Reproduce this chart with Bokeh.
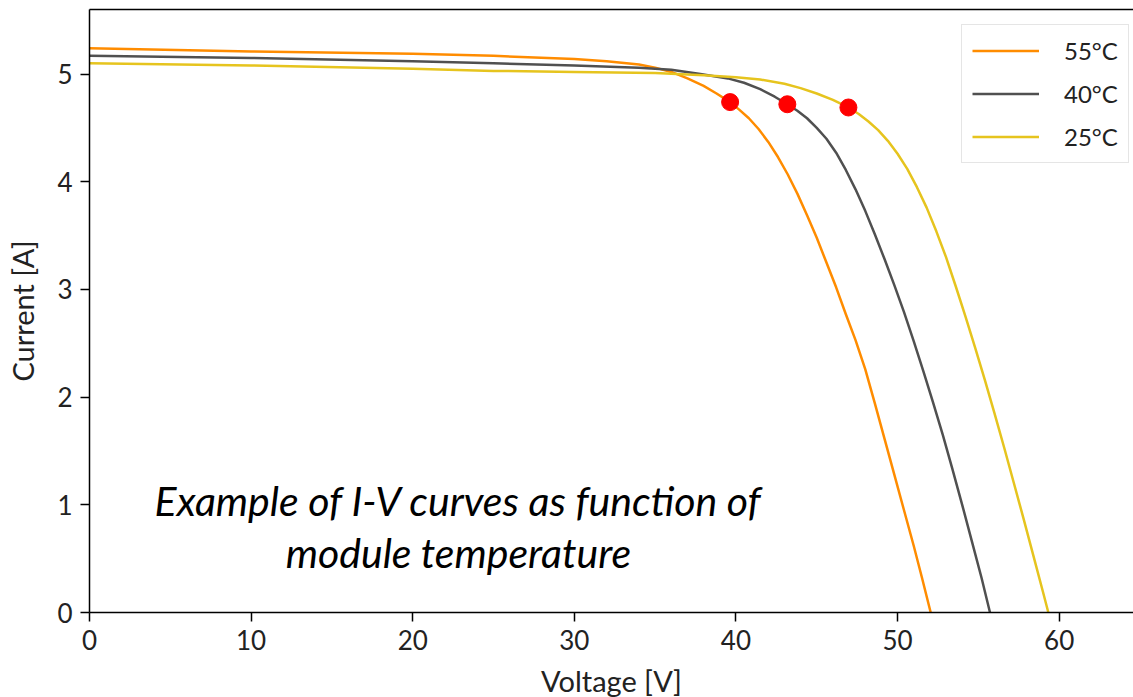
from bokeh.plotting import figure
from bokeh.models import Range1d, LinearAxis, Legend, LegendItem, Label, FixedTicker
from bokeh.embed import file_html
from bokeh.resources import INLINE

FONT = "Lato"

# 55 °C curve
v55 = [0, 10, 20, 25, 30, 32, 34, 35, 36, 37, 38, 38.8, 39.64, 40.2, 40.8, 41.4, 42.0,
       42.6, 43.2, 43.8, 44.4, 45.0, 45.6, 46.2, 46.8, 47.4, 48.0, 48.6, 49.2, 49.8,
       50.4, 51.0, 51.5, 52.05]
i55 = [5.24, 5.21, 5.19, 5.17, 5.14, 5.12, 5.09, 5.06, 5.02, 4.96, 4.89, 4.82, 4.74, 4.67, 4.59,
       4.49, 4.37, 4.23, 4.07, 3.89, 3.69, 3.48, 3.25, 3.02, 2.77, 2.53, 2.26, 1.94, 1.61,
       1.28, 0.95, 0.62, 0.33, 0.0]
# 40 °C curve
v40 = [0, 10, 20, 25, 30, 34, 36, 37.8, 39.5, 40.5, 41.5, 42.4, 43.18, 43.8, 44.4, 45.0,
       45.6, 46.2, 46.8, 47.4, 48.0, 48.6, 49.2, 49.8, 50.4, 51.0, 51.6, 52.2, 52.8, 53.4,
       54.0, 54.6, 55.2, 55.72]
i40 = [5.17, 5.15, 5.12, 5.10, 5.08, 5.06, 5.04, 5.00, 4.96, 4.92, 4.86, 4.79, 4.72, 4.66, 4.59,
       4.50, 4.40, 4.27, 4.11, 3.93, 3.73, 3.51, 3.28, 3.04, 2.79, 2.52, 2.24, 1.95, 1.65,
       1.33, 1.00, 0.66, 0.32, 0.0]
# 25 °C curve
v25 = [0, 10, 20, 25, 30, 35, 38, 40, 41.5, 43.0, 44.0, 45.0, 46.0, 46.96, 47.6, 48.2,
       48.8, 49.4, 50.0, 50.6, 51.2, 51.8, 52.4, 53.0, 53.6, 54.2, 54.8, 55.4, 56.0, 56.6,
       57.2, 57.8, 58.4, 59.0, 59.33]
i25 = [5.10, 5.08, 5.05, 5.03, 5.02, 5.01, 4.99, 4.97, 4.95, 4.91, 4.87, 4.82, 4.76, 4.69, 4.63,
       4.56, 4.48, 4.38, 4.26, 4.12, 3.95, 3.76, 3.54, 3.30, 3.03, 2.75, 2.46, 2.16, 1.85,
       1.53, 1.20, 0.87, 0.53, 0.19, 0.0]

# maximum power points
mpp_v = [39.64, 43.18, 46.96]
mpp_i = [4.74, 4.72, 4.69]

series_labels = ["55°C", "40°C", "25°C"]
series_colors = ["#FF8C00", "#505050", "#E6C41E"]

x_ticks = [0, 10, 20, 30, 40, 50, 60]
y_ticks = [0, 1, 2, 3, 4, 5]

p = figure(frame_width=1044, frame_height=603, output_backend="svg", toolbar_location=None,
           x_range=Range1d(0, 64.6), y_range=Range1d(0, 5.6),
           min_border_left=89, min_border_right=0, min_border_top=9, min_border_bottom=0,
           background_fill_color="white", border_fill_color="white")
p.outline_line_color = None
p.xgrid.visible = False
p.ygrid.visible = False

renderers = []
for vv, ii, col in zip([v55, v40, v25], [i55, i40, i25], series_colors):
    r = p.line(vv, ii, line_color=col, line_width=2.5, line_join="round")
    renderers.append(r)

p.scatter(mpp_v, mpp_i, size=17, fill_color="red", line_color="red")

for ax, ticks, lab in [(p.xaxis[0], x_ticks, "Voltage [V]"), (p.yaxis[0], y_ticks, "Current [A]")]:
    ax.ticker = FixedTicker(ticks=ticks)
    ax.axis_label = lab
    ax.axis_label_text_font = FONT
    ax.axis_label_text_font_style = "normal"
    ax.axis_label_text_font_size = "29px"
    ax.axis_label_text_color = "#222222"
    ax.major_label_text_font = FONT
    ax.major_label_text_font_size = "26px"
    ax.major_label_text_color = "#222222"
    ax.axis_line_color = "black"
    ax.axis_line_width = 1.5
    ax.major_tick_line_color = "black"
    ax.major_tick_line_width = 1.5
    ax.major_tick_out = 9
    ax.major_tick_in = 0
    ax.minor_tick_line_color = None
    ax.major_label_standoff = 8

p.yaxis[0].axis_label_standoff = 14
p.xaxis[0].axis_label_standoff = 10

top = LinearAxis(ticker=FixedTicker(ticks=[]), axis_line_color="black", axis_line_width=1.5,
                 major_tick_line_color=None, minor_tick_line_color=None,
                 major_label_standoff=0, major_tick_out=0, major_tick_in=0)
p.add_layout(top, "above")

legend = Legend(items=[LegendItem(label=l, renderers=[r]) for l, r in zip(series_labels, renderers)],
                location=(872, 449), label_text_font=FONT, label_text_font_size="24px",
                label_text_color="#222222", glyph_width=67, glyph_height=31, label_height=31,
                label_standoff=25, spacing=12, padding=10, margin=0,
                border_line_color="#CCCCCC", border_line_width=1.5, background_fill_alpha=1)
p.add_layout(legend)

note1 = Label(x=369, y=112, x_units="screen", y_units="screen",
              text="Example of I-V curves as function of", text_font=FONT,
              text_font_style="italic", text_font_size="41px", text_align="center",
              text_baseline="middle", text_color="black")
note2 = Label(x=369, y=60, x_units="screen", y_units="screen",
              text="module temperature", text_font=FONT,
              text_font_style="italic", text_font_size="41px", text_align="center",
              text_baseline="middle", text_color="black")
p.add_layout(note1)
p.add_layout(note2)

open("out.html", "w").write(file_html(p, INLINE))
